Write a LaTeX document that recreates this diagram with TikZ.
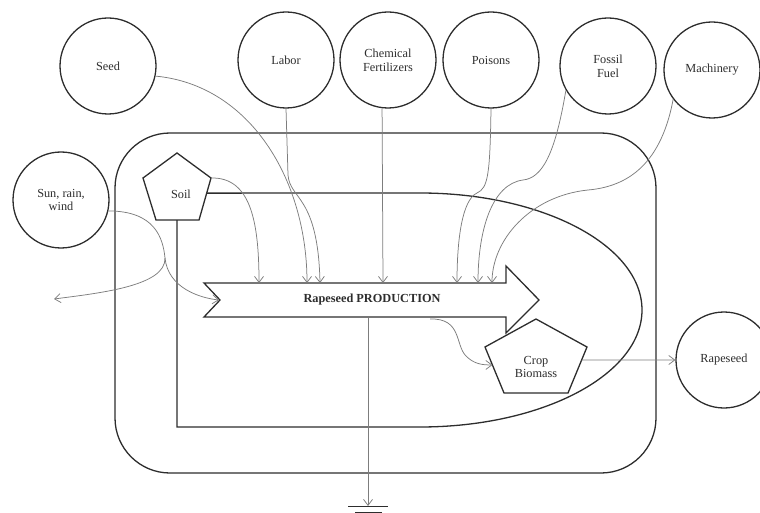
\documentclass[tikz,border=0pt]{standalone}
\usepackage{fontspec}
\setmainfont{Liberation Serif}
\usetikzlibrary{arrows.meta,calc}
\definecolor{ink}{RGB}{45,45,45}
\definecolor{flow}{RGB}{125,125,125}
\tikzset{
  txt/.style={font=\fontsize{12.3}{13.6}\selectfont, text=ink, align=center, inner sep=0pt},
  circ/.style={txt, circle, draw=ink, line width=1.3pt, minimum size=96pt},
  shp/.style={draw=ink, line width=1.3pt, line join=miter},
  fl/.style={draw=flow, line width=0.75pt, -{Straight Barb[length=6pt,width=9pt]}},
  fln/.style={draw=flow, line width=0.75pt}
}
\begin{document}
\begin{tikzpicture}[x=1pt,y=-1pt]
\useasboundingbox (0,0) rectangle (760,513);
% outer system boundary
\draw[shp, rounded corners=55pt] (115,133) rectangle (656,473);
% source circles
\node[circ] (seed) at (108,66) {Seed};
\node[circ] (labor) at (286,60) {Labor};
\node[circ] (chem) at (388,60) {Chemical\\Fertilizers};
\node[circ] (poison) at (491,60) {Poisons};
\node[circ] (fossil) at (608,66) {Fossil\\Fuel};
\node[circ] (mach) at (712,70) {Machinery};
\node[circ] (sun) at (61,200) {Sun, rain,\\wind};
\node[circ] (rape) at (724,360) {Rapeseed};
% soil pentagon
\coordinate (s1) at (177,153);
\coordinate (s2) at (143,178);
\coordinate (s3) at (156,220);
\coordinate (s4) at (199,220);
\coordinate (s5) at (211,178);
\draw[shp] (s1) -- (s2) -- (s3) -- (s4) -- (s5) -- cycle;
\node[txt] (soil) at (181,194) {Soil};
\coordinate (soilb) at (177,220);
\coordinate (soilr) at ($(s5)!0.36!(s4)$);
% crop biomass pentagon
\coordinate (c1) at (536,319);
\coordinate (c2) at (485,347);
\coordinate (c3) at (504,393);
\coordinate (c4) at (568,393);
\coordinate (c5) at (587,347);
\draw[shp, fill=white] (c1) -- (c2) -- (c3) -- (c4) -- (c5) -- cycle;
\node[txt] (crop) at (536,367) {Crop\\Biomass};
\coordinate (cropin) at ($(c2)!0.39!(c3)$);
\coordinate (cropout) at ($(c5)!0.28!(c4)$);
% soil storage loop
\draw[shp] (soilb) -- (177,427) -- (420,427)
  .. controls (542.6,427) and (642,374.6) .. (642,310)
  .. controls (642,245.4) and (542.6,193) .. (420,193) -- (soilr);
% production arrow
\draw[shp, fill=white] (204,283) -- (506,283) -- (506,266) -- (539,300) -- (506,333)
  -- (506,317) -- (204,317) -- (220,300) -- cycle;
\node[txt, font=\fontsize{12.3}{13.6}\selectfont\bfseries] (prod) at (372,300) {Rapeseed PRODUCTION};
\coordinate (pin) at (219,300);
\coordinate (p1) at (259,283);
\coordinate (p2) at (307,283);
\coordinate (p3) at (320,283);
\coordinate (p4) at (383,283);
\coordinate (p5) at (457,283);
\coordinate (p6) at (478,283);
\coordinate (p7) at (492,283);
\coordinate (pout) at (430,319);
\coordinate (pdown) at (368,318);
\coordinate (outleft) at (54,299);
\coordinate (sunmid) at (165,258);
% ground
\coordinate (gnd) at (368,506);
\draw[ink, line width=0.9pt] (348,506) -- (388,506);
\draw[ink, line width=0.9pt] (355,512) -- (382,512);
% inflows
\draw[fl] (s5) .. controls (250,177) and (259,220) .. (p1);
\draw[fl] (seed.-12) .. controls (250,85) and (307,180) .. (p2);
\draw[fl] (labor.south) -- (288,175) .. controls (290,200) and (318,195) .. (p3);
\draw[fl] (chem.263) -- (p4);
\draw[fl] (poison.south) .. controls (490,175) and (488,188) .. (477,193)
  .. controls (462,200) and (457,240) .. (p5);
\draw[fl] (fossil.210) .. controls (555,155) and (542,178) .. (523,180)
  .. controls (492,184) and (478,230) .. (p6);
\draw[fl] (mach.217) .. controls (660,170) and (622,187) .. (588,190)
  .. controls (530,196) and (492,240) .. (p7);
% sun
\draw[fln] (sun.-13) .. controls (155,211) and (163,238) .. (sunmid);
\draw[fl] (sunmid) .. controls (168,288) and (200,298) .. (pin);
\draw[fl] (sunmid) .. controls (166,286) and (100,293) .. (outleft);
% outputs
\draw[fl] (pout) .. controls (462,318) and (455,345) .. (466,356)
  .. controls (474,364) and (482,365) .. (cropin);
\draw[fl] (cropout) -- (rape.west);
\draw[fl] (pdown) -- (gnd);
\end{tikzpicture}
\end{document}
